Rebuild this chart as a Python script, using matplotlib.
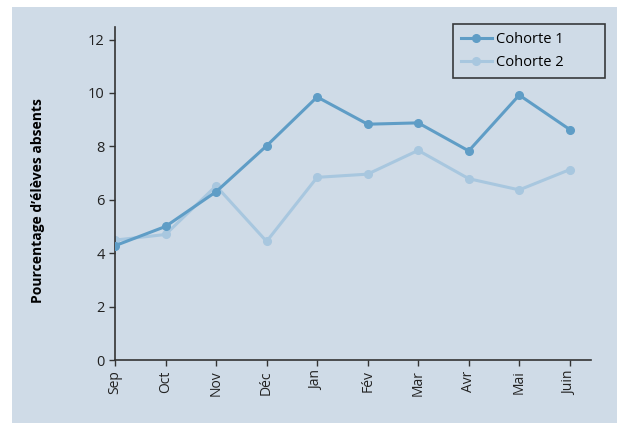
import matplotlib
matplotlib.use("Agg")
import matplotlib.pyplot as plt
from matplotlib.patches import Rectangle

months = ["Sep", "Oct", "Nov", "Déc", "Jan", "Fév", "Mar", "Avr", "Mai", "Juin"]
cohorte1 = [4.28, 5.0, 6.3, 8.02, 9.85, 8.83, 8.88, 7.83, 9.92, 8.63]
cohorte2 = [4.49, 4.70, 6.52, 4.44, 6.84, 6.96, 7.85, 6.79, 6.37, 7.13]
yticks = [0, 2, 4, 6, 8, 10, 12]

bg = "#cfdbe7"
c1 = "#5f9dc6"
c2 = "#a8c7df"

plt.rcParams['font.family'] = ['Open Sans', 'DejaVu Sans']

fig = plt.figure(figsize=(6.17, 4.23), dpi=100)
fig.patch.set_facecolor("white")
fig.patches.append(Rectangle((12/617, 0), 1 - 12/617, 1 - 7/423,
                             transform=fig.transFigure, facecolor=bg,
                             edgecolor="none", zorder=-10))

ax = fig.add_axes([115/617, 63/423, (591-115)/617, (360-27)/423])
ax.set_facecolor("none")
x = list(range(len(months)))
ax.plot(x, cohorte2, color=c2, lw=2.2, marker="o", ms=5.5, label="Cohorte 2", zorder=2)
ax.plot(x, cohorte1, color=c1, lw=2.2, marker="o", ms=5.5, label="Cohorte 1", zorder=3)

ax.set_xlim(0, 9.42)
ax.set_ylim(0, 12.47)
ax.set_xticks(x)
ax.set_xticklabels(months, rotation=90, fontsize=10)
ax.set_yticks(yticks)
ax.set_yticklabels([str(v) for v in yticks], fontsize=10.5)
for s in ["top", "right"]:
    ax.spines[s].set_visible(False)
for s in ["left", "bottom"]:
    ax.spines[s].set_color("#333333")
    ax.spines[s].set_linewidth(1.2)
ax.tick_params(axis="both", direction="out", length=4, width=1, color="#333333", labelcolor="#222222")
ax.set_ylabel("Pourcentage d’élèves absents", fontsize=10, fontweight="bold")
ax.yaxis.set_label_coords(-0.147, 0.48)

handles, labels = ax.get_legend_handles_labels()
leg = ax.legend(handles[::-1], labels[::-1], loc="upper left",
                bbox_to_anchor=(453/617, 1 - 77/423, 152/617, 53/423),
                bbox_transform=fig.transFigure, mode="expand",
                borderaxespad=0, frameon=True, fancybox=False, fontsize=10.5,
                borderpad=0.55, handlelength=2.1, labelspacing=0.55, handletextpad=0.3)
leg.get_frame().set_edgecolor("#111111")
leg.get_frame().set_facecolor("none")
leg.get_frame().set_linewidth(1.2)

fig.savefig("out.png", dpi=100)
